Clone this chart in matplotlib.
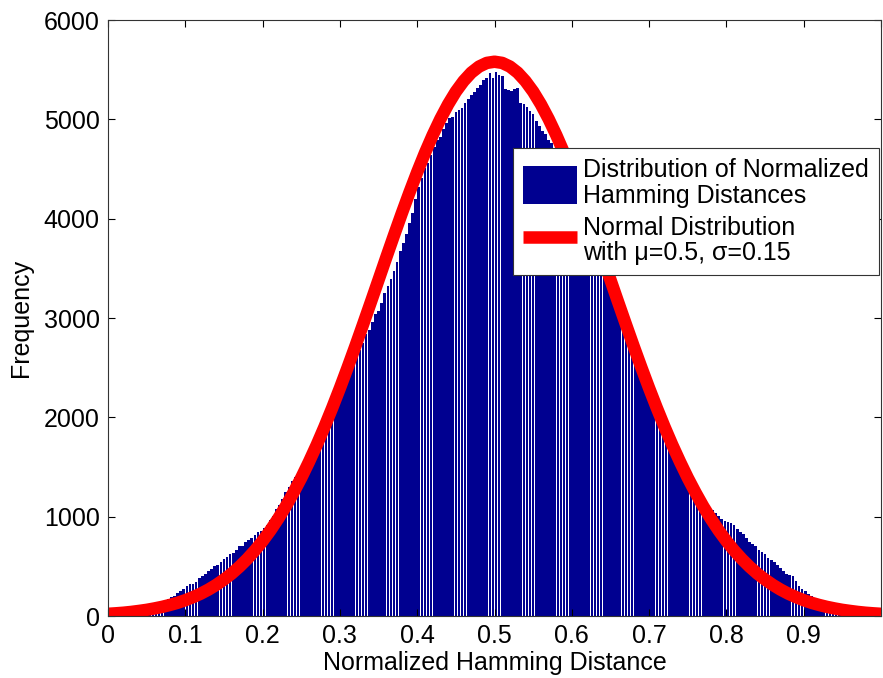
import numpy as np
import matplotlib
matplotlib.use("Agg")
import matplotlib.pyplot as plt

plt.rcParams['font.family'] = ['Liberation Sans', 'DejaVu Sans']

# histogram of normalized hamming distances, 250 bins over [0, 1]
bin_width = 0.004
counts = [
    0, 0, 1, 3, 6, 10, 15, 20, 28, 36,
    44, 52, 60, 70, 84, 95, 110, 124, 146, 170,
    188, 205, 230, 248, 275, 300, 320, 318, 345, 385,
    405, 420, 455, 470, 505, 512, 545, 575, 590, 622,
    630, 665, 700, 705, 745, 770, 790, 815, 848, 860,
    890, 920, 965, 1010, 1075, 1120, 1180, 1245, 1300, 1362,
    1395, 1440, 1490, 1560, 1625, 1690, 1725, 1790, 1860, 1930,
    1975, 2040, 2085, 2150, 2240, 2320, 2350, 2420, 2490, 2560,
    2610, 2680, 2750, 2840, 2880, 2960, 3040, 3070, 3150, 3250,
    3320, 3390, 3470, 3560, 3670, 3760, 3850, 3960, 4060, 4200,
    4320, 4410, 4510, 4560, 4640, 4720, 4790, 4820, 4900, 4960,
    5010, 5020, 5070, 5090, 5110, 5160, 5200, 5240, 5280, 5320,
    5350, 5400, 5420, 5470, 5420, 5480, 5450, 5440, 5310, 5300,
    5290, 5310, 5320, 5160, 5150, 5120, 5080, 5050, 4980, 4930,
    4880, 4850, 4790, 4760, 4700, 4650, 4610, 4560, 4490, 4420,
    4350, 4300, 4220, 4150, 4070, 3990, 3930, 3850, 3760, 3670,
    3560, 3490, 3400, 3320, 3240, 3150, 3060, 2990, 2900, 2800,
    2690, 2610, 2520, 2440, 2350, 2270, 2190, 2120, 2050, 1960,
    1880, 1810, 1740, 1680, 1610, 1540, 1490, 1430, 1380, 1320,
    1270, 1230, 1190, 1140, 1100, 1070, 1040, 1010, 980, 960,
    945, 940, 920, 880, 845, 830, 790, 745, 720, 700,
    665, 640, 620, 580, 560, 545, 510, 480, 455, 420,
    410, 400, 350, 300, 270, 250, 225, 200, 185, 165,
    135, 120, 100, 90, 80, 68, 55, 45, 38, 30,
    22, 16, 12, 8, 5, 3, 2, 1, 0, 0,
]
bin_centers = np.arange(len(counts)) * bin_width + bin_width / 2

# fitted normal curve (mu=0.5, sigma=0.15), left half + peak
curve_left = [22, 27, 33, 41, 51, 62, 76, 92, 111, 133,
              159, 190, 225, 266, 313, 367, 427, 496, 573, 659,
              755, 861, 978, 1104, 1243, 1391, 1552, 1722, 1903, 2094,
              2294, 2502, 2716, 2936, 3159, 3384, 3610, 3833, 4052, 4264,
              4468, 4661, 4840, 5004, 5151, 5279, 5385, 5470, 5531, 5568,
              5580]
curve_y = curve_left + curve_left[-2::-1]
curve_x = np.linspace(0, 1, len(curve_y))

fig = plt.figure(figsize=(8.83, 6.78), dpi=100)
ax = fig.add_axes([108 / 883, 1 - 616 / 678, 773 / 883, 596 / 678])

bars = ax.bar(bin_centers, counts, width=bin_width * 0.85, color='#000090',
              edgecolor='none')
line, = ax.plot(curve_x, curve_y, color='#FF0000', linewidth=9,
                solid_capstyle='butt')

ax.set_xlim(0, 1)
ax.set_ylim(0, 6000)
ax.set_xticks(np.arange(0, 1.01, 0.1))
ax.set_xticklabels(['0', '0.1', '0.2', '0.3', '0.4', '0.5', '0.6', '0.7', '0.8', '0.9', ''])
ax.set_yticks(np.arange(0, 6001, 1000))
ax.tick_params(direction='in', length=5, width=0.8, labelsize=18, pad=6,
               top=True, right=True)
for s in ax.spines.values():
    s.set_color('#333333')
    s.set_linewidth(0.8)

ax.set_xlabel('Normalized Hamming Distance', fontsize=18, labelpad=2)
ax.set_ylabel('Frequency', fontsize=18, labelpad=8)

leg = ax.legend([bars, line],
                ['Distribution of Normalized\nHamming Distances',
                 'Normal Distribution\nwith \u03bc=0.5, \u03c3=0.15'],
                loc='upper right', bbox_to_anchor=(0.997, 0.785), borderaxespad=0,
                fontsize=18, fancybox=False, framealpha=1, edgecolor='#333333',
                handlelength=2.15, handleheight=1.95, handletextpad=0.25,
                labelspacing=0.3, borderpad=0.4)
leg.get_frame().set_linewidth(0.8)
for t in leg.get_texts():
    t.set_linespacing(1.1)

fig.savefig('out.png', dpi=100)
